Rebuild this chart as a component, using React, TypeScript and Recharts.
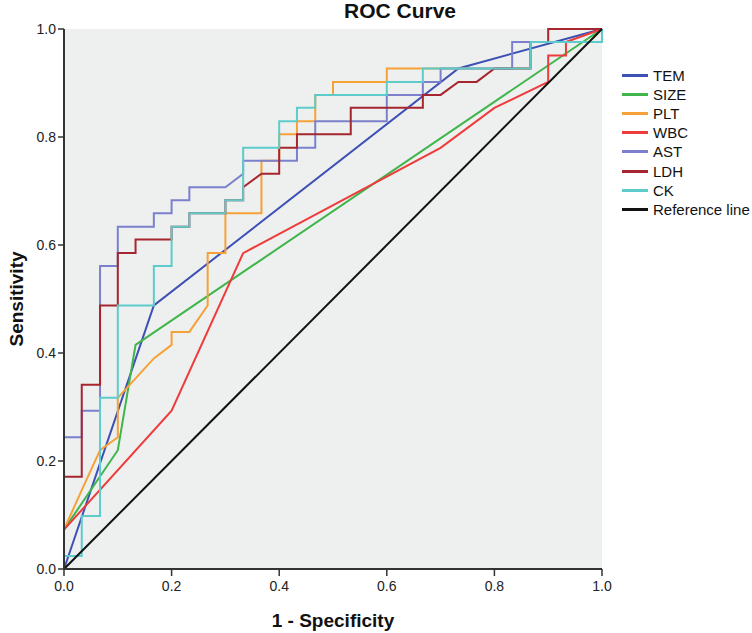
import { LineChart, Line, XAxis, YAxis, CartesianGrid, Label } from "recharts";

const TICKS = [0, 0.2, 0.4, 0.6, 0.8, 1];

// 1 - specificity / sensitivity pairs
const TEM_FPR = [0, 0.167, 0.733, 1];
const TEM_TPR = [0, 0.488, 0.927, 1];

const SIZE_FPR = [0, 0, 0.1, 0.133, 1];
const SIZE_TPR = [0, 0.073, 0.22, 0.415, 1];

const PLT_FPR = [0, 0, 0.033, 0.067, 0.1, 0.1, 0.167, 0.2, 0.2, 0.233, 0.267, 0.267, 0.3, 0.3, 0.367, 0.367, 0.4, 0.4, 0.433, 0.433, 0.467, 0.467, 0.5, 0.5, 0.6, 0.6, 0.867, 0.867, 1, 1];
const PLT_TPR = [0, 0.073, 0.146, 0.22, 0.244, 0.317, 0.39, 0.415, 0.439, 0.439, 0.488, 0.585, 0.585, 0.659, 0.659, 0.756, 0.756, 0.805, 0.805, 0.829, 0.829, 0.878, 0.878, 0.902, 0.902, 0.927, 0.927, 0.976, 0.976, 1];

const WBC_FPR = [0, 0, 0.2, 0.333, 0.7, 0.8, 0.9, 0.9, 0.933, 0.933, 1];
const WBC_TPR = [0, 0.073, 0.293, 0.585, 0.78, 0.854, 0.902, 0.951, 0.951, 0.976, 1];

const AST_FPR = [0, 0, 0.033, 0.033, 0.067, 0.067, 0.1, 0.1, 0.167, 0.167, 0.2, 0.2, 0.233, 0.233, 0.3, 0.333, 0.333, 0.433, 0.433, 0.467, 0.467, 0.6, 0.6, 0.667, 0.667, 0.7, 0.7, 0.833, 0.833, 1, 1];
const AST_TPR = [0, 0.244, 0.244, 0.293, 0.293, 0.561, 0.561, 0.634, 0.634, 0.659, 0.659, 0.683, 0.683, 0.707, 0.707, 0.732, 0.756, 0.756, 0.78, 0.78, 0.829, 0.829, 0.878, 0.878, 0.902, 0.902, 0.927, 0.927, 0.976, 0.976, 1];

const LDH_FPR = [0, 0, 0.033, 0.033, 0.067, 0.067, 0.1, 0.1, 0.133, 0.133, 0.2, 0.2, 0.233, 0.233, 0.3, 0.3, 0.333, 0.333, 0.367, 0.4, 0.4, 0.433, 0.433, 0.533, 0.533, 0.667, 0.667, 0.7, 0.733, 0.767, 0.8, 0.867, 0.867, 0.9, 0.9, 1];
const LDH_TPR = [0, 0.171, 0.171, 0.341, 0.341, 0.488, 0.488, 0.585, 0.585, 0.61, 0.61, 0.634, 0.634, 0.659, 0.659, 0.683, 0.683, 0.707, 0.732, 0.732, 0.78, 0.78, 0.805, 0.805, 0.854, 0.854, 0.878, 0.878, 0.902, 0.902, 0.927, 0.927, 0.976, 0.976, 1, 1];

const CK_FPR = [0, 0, 0.033, 0.033, 0.067, 0.067, 0.1, 0.1, 0.167, 0.167, 0.2, 0.2, 0.233, 0.233, 0.3, 0.3, 0.333, 0.333, 0.4, 0.4, 0.433, 0.433, 0.467, 0.467, 0.6, 0.6, 0.667, 0.667, 0.867, 0.867, 1, 1];
const CK_TPR = [0, 0.024, 0.024, 0.098, 0.098, 0.317, 0.317, 0.488, 0.488, 0.561, 0.561, 0.634, 0.634, 0.659, 0.659, 0.683, 0.683, 0.78, 0.78, 0.829, 0.829, 0.854, 0.854, 0.878, 0.878, 0.902, 0.902, 0.927, 0.927, 0.976, 0.976, 1];

const REF_FPR = [0, 1];
const REF_TPR = [0, 1];

const pts = (xs: number[], ys: number[]) => xs.map((x, i) => ({ x, y: ys[i] }));

const series = [
  { name: "TEM", color: "#3d50b5", data: pts(TEM_FPR, TEM_TPR) },
  { name: "SIZE", color: "#3fb54b", data: pts(SIZE_FPR, SIZE_TPR) },
  { name: "PLT", color: "#f6a137", data: pts(PLT_FPR, PLT_TPR) },
  { name: "WBC", color: "#ee3b3b", data: pts(WBC_FPR, WBC_TPR) },
  { name: "AST", color: "#7c80cc", data: pts(AST_FPR, AST_TPR) },
  { name: "LDH", color: "#a6262f", data: pts(LDH_FPR, LDH_TPR) },
  { name: "CK", color: "#5ecbcb", data: pts(CK_FPR, CK_TPR) },
  { name: "Reference line", color: "#111111", data: pts(REF_FPR, REF_TPR) },
];

const fmt = (v: number) => v.toFixed(1);
const font = '"Liberation Sans", Arial, sans-serif';

export default function App() {
  return (
    <div style={{ position: "absolute", left: 0, top: 0, width: 752, height: 633, background: "#fff", fontFamily: font }}>
      <div style={{ position: "absolute", left: 300, top: 0, width: 200, textAlign: "center", fontSize: 21, lineHeight: "21px", fontWeight: "bold", color: "#111" }}>
        ROC Curve
      </div>
      <LineChart width={752} height={633} margin={{ top: 29, right: 150, bottom: 0, left: 0 }}>
        <CartesianGrid fill="#eef0ef" horizontal={false} vertical={false} />
        <XAxis
          type="number"
          dataKey="x"
          domain={[0, 1]}
          ticks={TICKS}
          tickFormatter={fmt}
          height={64}
          tickSize={7}
          tickMargin={5}
          axisLine={{ stroke: "#333", strokeWidth: 2 }}
          tickLine={{ stroke: "#333", strokeWidth: 1.5 }}
          tick={{ fontSize: 14, fill: "#222" }}
        >
          <Label value="1 - Specificity" position="insideBottom" offset={6} style={{ fontSize: 19, fontWeight: "bold", fill: "#111" }} />
        </XAxis>
        <XAxis xAxisId="top" orientation="top" type="number" domain={[0, 1]} height={0} tick={false} tickLine={false} axisLine={{ stroke: "#888", strokeWidth: 1.5 }} />
        <YAxis
          type="number"
          domain={[0, 1]}
          ticks={TICKS}
          tickFormatter={fmt}
          width={64}
          tickSize={6}
          tickMargin={2}
          axisLine={{ stroke: "#333", strokeWidth: 2 }}
          tickLine={{ stroke: "#333", strokeWidth: 1.5 }}
          tick={{ fontSize: 14, fill: "#222" }}
        >
          <Label
            content={() => (
              <text x={16} y={299} transform="rotate(-90 16 299)" textAnchor="middle" dominantBaseline="central" style={{ fontSize: 19, fontWeight: "bold", fill: "#111" }}>
                Sensitivity
              </text>
            )}
          />
        </YAxis>
        <YAxis yAxisId="right" orientation="right" type="number" domain={[0, 1]} width={0} tick={false} tickLine={false} axisLine={{ stroke: "#888", strokeWidth: 1.5 }} />
        {series.map((s) => (
          <Line
            key={s.name}
            data={s.data}
            dataKey="y"
            type="linear"
            stroke={s.color}
            strokeWidth={2}
            dot={false}
            activeDot={false}
            isAnimationActive={false}
          />
        ))}
      </LineChart>
      <div style={{ position: "absolute", left: 622, top: 66, fontSize: 15, color: "#111" }}>
        {series.map((s) => (
          <div key={s.name} style={{ display: "flex", alignItems: "center", height: 19.1 }}>
            <span style={{ display: "inline-block", width: 26, height: 3, background: s.color, marginRight: 5 }} />
            <span style={{ whiteSpace: "nowrap" }}>{s.name}</span>
          </div>
        ))}
      </div>
    </div>
  );
}
